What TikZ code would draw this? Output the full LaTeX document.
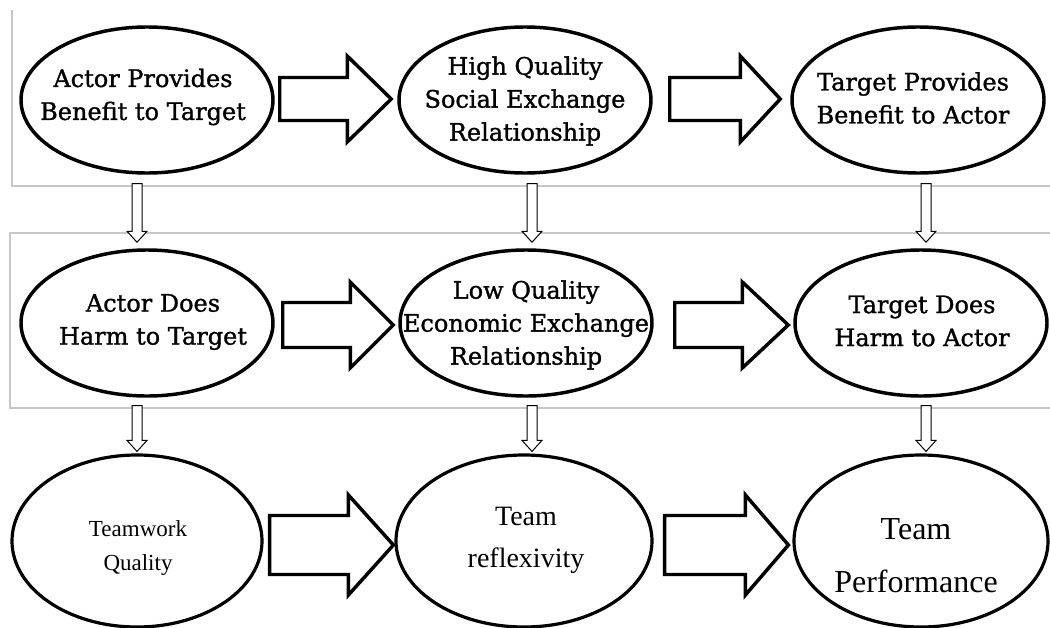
\documentclass[tikz,border=0pt]{standalone}
\usepackage{fontspec}
\setmainfont{Liberation Serif}
\newfontfamily\schfont[FakeBold=1.2]{DejaVu Serif}
\usetikzlibrary{calc,shapes.geometric}
\newcommand{\fatarr}[8]{%
\draw[fatarrow] let \p1=($(#1.east)+(#3,#8)$), \p2=($(#2.west)+(-#4,#8)$), \p3=($(\p2)+(-#5,0)$) in
 (\x1,{\y1+#6*0.75pt}) -- (\x3,{\y1+#6*0.75pt}) -- (\x3,{\y1+#7*0.75pt}) -- (\x2,\y1) --
 (\x3,{\y1-#7*0.75pt}) -- (\x3,{\y1-#6*0.75pt}) -- (\x1,{\y1-#6*0.75pt}) -- cycle;}
\newcommand{\thinarr}[5]{%
\draw[thinarrow] let \p1=($(#1.south)+(#3,#4)$), \p2=($(#2.north)+(0,-#5)$) in
 ({\x1-5*0.75pt},\y1) -- ({\x1+5*0.75pt},\y1) -- ({\x1+5*0.75pt},{\y2+11*0.75pt}) --
 ({\x1+10*0.75pt},{\y2+11*0.75pt}) -- (\x1,\y2) -- ({\x1-10*0.75pt},{\y2+11*0.75pt}) --
 ({\x1-5*0.75pt},{\y2+11*0.75pt}) -- cycle;}
\begin{document}
\begin{tikzpicture}[x=0.75pt,y=-0.75pt,
  oval/.style={ellipse, draw, line width=2.6pt, fill=white, inner sep=0pt,
    minimum width=189pt, minimum height=109.5pt},
  ovalb/.style={oval, line width=2.4pt, minimum height=129pt},
  txt/.style={inner sep=0pt, align=center, font=\schfont\fontsize{18pt}{24.75pt}\selectfont},
  fatarrow/.style={draw, line width=2.6pt, line join=miter, fill=white},
  thinarrow/.style={draw, line width=0.75pt, fill=white},
  panel/.style={draw=black!22, line width=0.8pt}]
\useasboundingbox (0,0) rectangle (1050,628);
% panels
\draw[panel] (12,10) -- (12,186) -- (1050,186);
\draw[panel] (1050,233) -- (10,233) -- (10,408) -- (1050,408);
% row 1
\node[oval] (e11) at (147,100) {};
\node[oval] (e12) at (525,100) {};
\node[oval] (e13) at (918,100) {};
\node[txt] (t11) at (143,97) {Actor Provides\\Benefit to Target};
\node[txt] (t12) at (525,101) {High Quality\\Social Exchange\\Relationship};
\node[txt] (t13) at (913,98) {Target Provides\\Benefit to Actor};
% row 2
\node[oval] (e21) at (147,323) {};
\node[oval] (e22) at (526,323) {};
\node[oval] (e23) at (921,323) {};
\node[txt] (t21) at (153,322) {Actor Does\\Harm to Target};
\node[txt] (t22) at (526,325) {Low Quality\\Economic Exchange\\Relationship};
\node[txt] (t23) at (922,321) {Target Does\\Harm to Actor};
% row 3
\node[ovalb, minimum width=187.5pt] (e31) at (137,541) {};
\node[ovalb, minimum width=192pt] (e32) at (524,541) {};
\node[ovalb, minimum width=190.5pt] (e33) at (921,541) {};
\node[inner sep=0pt, align=center, font=\fontsize{17.25pt}{25.5pt}\selectfont] (t31) at (138,548) {Teamwork\\Quality};
\node[inner sep=0pt, align=center, font=\fontsize{21pt}{31.5pt}\selectfont] (t32) at (526,540) {Team\\reflexivity};
\node[inner sep=0pt, align=center, font=\fontsize{24pt}{39.75pt}\selectfont] (t33) at (916,556) {Team\\Performance};
% fat arrows
\fatarr{e11}{e12}{5}{6}{44}{21.5}{43}{-1}
\fatarr{e12}{e13}{17}{10}{40}{21.5}{43}{-1}
\fatarr{e21}{e22}{8}{5}{43}{22.5}{43}{2}
\fatarr{e22}{e23}{21}{5}{46}{22.5}{43}{2}
\fatarr{e31}{e32}{6}{1}{45}{29.5}{50}{4}
\fatarr{e32}{e33}{11}{4}{43}{29.5}{50}{4}
% thin arrows
\thinarr{e11}{e21}{-10}{9}{6}
\thinarr{e12}{e22}{7}{9}{6}
\thinarr{e13}{e23}{8}{9}{6}
\thinarr{e21}{e31}{-10}{8}{2}
\thinarr{e22}{e32}{6}{8}{2}
\thinarr{e23}{e33}{5}{8}{2}
\end{tikzpicture}
\end{document}
